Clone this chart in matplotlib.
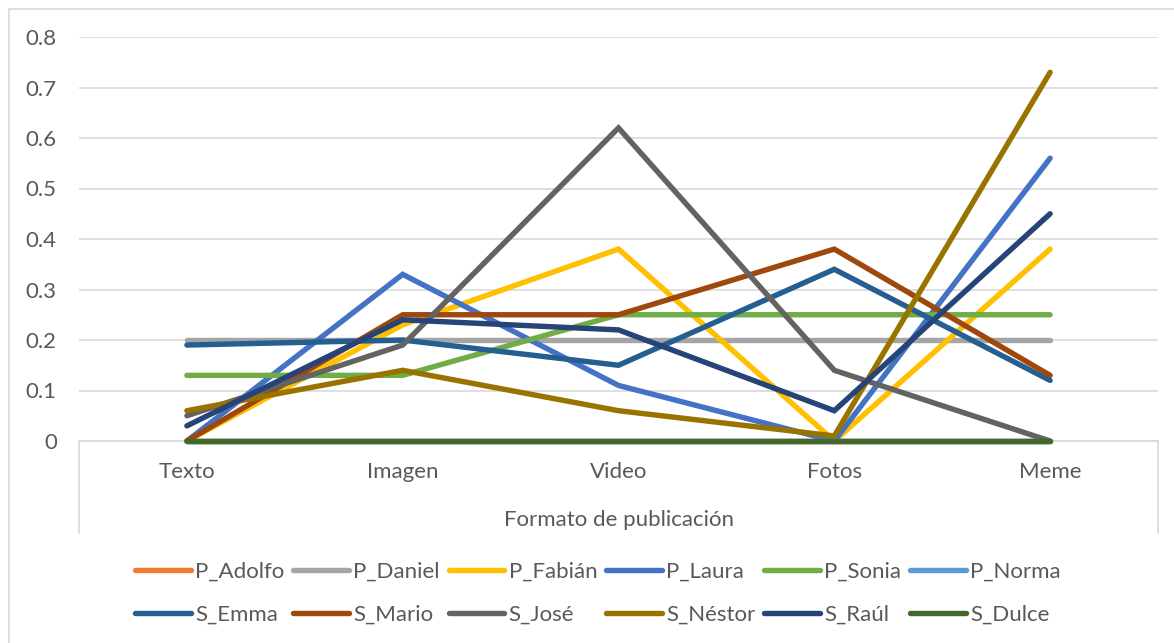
import matplotlib
matplotlib.use("Agg")
import matplotlib.pyplot as plt
from matplotlib.patches import Rectangle

formatos = ["Texto", "Imagen", "Video", "Fotos", "Meme"]

p_adolfo = [0, 0, 0, 0, 0]
p_daniel = [0.20, 0.20, 0.20, 0.20, 0.20]
p_fabian = [0, 0.23, 0.38, 0, 0.38]
p_laura = [0, 0.33, 0.11, 0, 0.56]
p_sonia = [0.13, 0.13, 0.25, 0.25, 0.25]
p_norma = [0, 0, 0, 0, 0]
s_emma = [0.19, 0.20, 0.15, 0.34, 0.12]
s_mario = [0, 0.25, 0.25, 0.38, 0.13]
s_jose = [0.05, 0.19, 0.62, 0.14, 0]
s_nestor = [0.06, 0.14, 0.06, 0.01, 0.73]
s_raul = [0.03, 0.24, 0.22, 0.06, 0.45]
s_dulce = [0, 0, 0, 0, 0]

series = [
    ("P_Adolfo", p_adolfo, "#ED7D31"),
    ("P_Daniel", p_daniel, "#A5A5A5"),
    ("P_Fabián", p_fabian, "#FFC000"),
    ("P_Laura", p_laura, "#4472C4"),
    ("P_Sonia", p_sonia, "#70AD47"),
    ("P_Norma", p_norma, "#5B9BD5"),
    ("S_Emma", s_emma, "#255E91"),
    ("S_Mario", s_mario, "#9E480E"),
    ("S_José", s_jose, "#636363"),
    ("S_Néstor", s_nestor, "#997300"),
    ("S_Raúl", s_raul, "#264478"),
    ("S_Dulce", s_dulce, "#43682B"),
]

txt = "#595959"
grid = "#D9D9D9"
fs = 16
plt.rcParams["font.family"] = ["Lato", "DejaVu Sans"]

W, H = 1174, 643
fig = plt.figure(figsize=(W / 100, H / 100), dpi=100)
ax = fig.add_axes([79 / W, 1 - 441 / H, (1158 - 79) / W, (441 - 37) / H])

# chart border
fig.patches.append(Rectangle((9 / W, -0.1), 1.2, 1 - 9 / H + 0.1,
                             transform=fig.transFigure, fill=False,
                             edgecolor=grid, linewidth=1.2))

x = list(range(len(formatos)))
lines = []
for name, vals, color in series:
    ln, = ax.plot(x, vals, color=color, linewidth=3.9, label=name,
                  solid_capstyle="round", solid_joinstyle="miter",
                  zorder=3, clip_on=False)
    lines.append(ln)

ax.set_xlim(-0.5, len(formatos) - 0.5)
ax.set_ylim(0, 0.8)
ax.set_yticks([i / 10 for i in range(9)])
ax.set_yticklabels(["0"] + [f"{i / 10:.1f}" for i in range(1, 9)])
ax.set_xticks(x)
ax.set_xticklabels(formatos)
ax.tick_params(axis="both", length=0, labelsize=fs, colors=txt)
ax.tick_params(axis="y", pad=16)
ax.tick_params(axis="x", pad=15)
ax.grid(axis="y", color=grid, linewidth=1.2)
ax.set_axisbelow(True)
for s in ["top", "right", "left"]:
    ax.spines[s].set_visible(False)
ax.spines["bottom"].set_color(grid)
ax.spines["bottom"].set_linewidth(1.2)

# side lines of the category axis
for xa in (0, 1):
    ax.plot([xa, xa], [0, -(533 - 441) / (441 - 37)], transform=ax.transAxes,
            color=grid, linewidth=1.2, clip_on=False)

ax.set_xlabel("Formato de publicación", fontsize=fs, color=txt, labelpad=20)

# legend filled row by row (matplotlib fills by column)
ncol = 6
order = [r * ncol + c for c in range(ncol) for r in range(2)]
leg = fig.legend([lines[i] for i in order], [series[i][0] for i in order],
                 loc="center", bbox_to_anchor=(598 / W, 1 - 593 / H),
                 ncol=ncol, frameon=False, fontsize=fs, handlelength=2.5,
                 handletextpad=0.2, columnspacing=0.4, labelspacing=1.05)
for t in leg.get_texts():
    t.set_color(txt)

fig.savefig("out.png", dpi=100)
